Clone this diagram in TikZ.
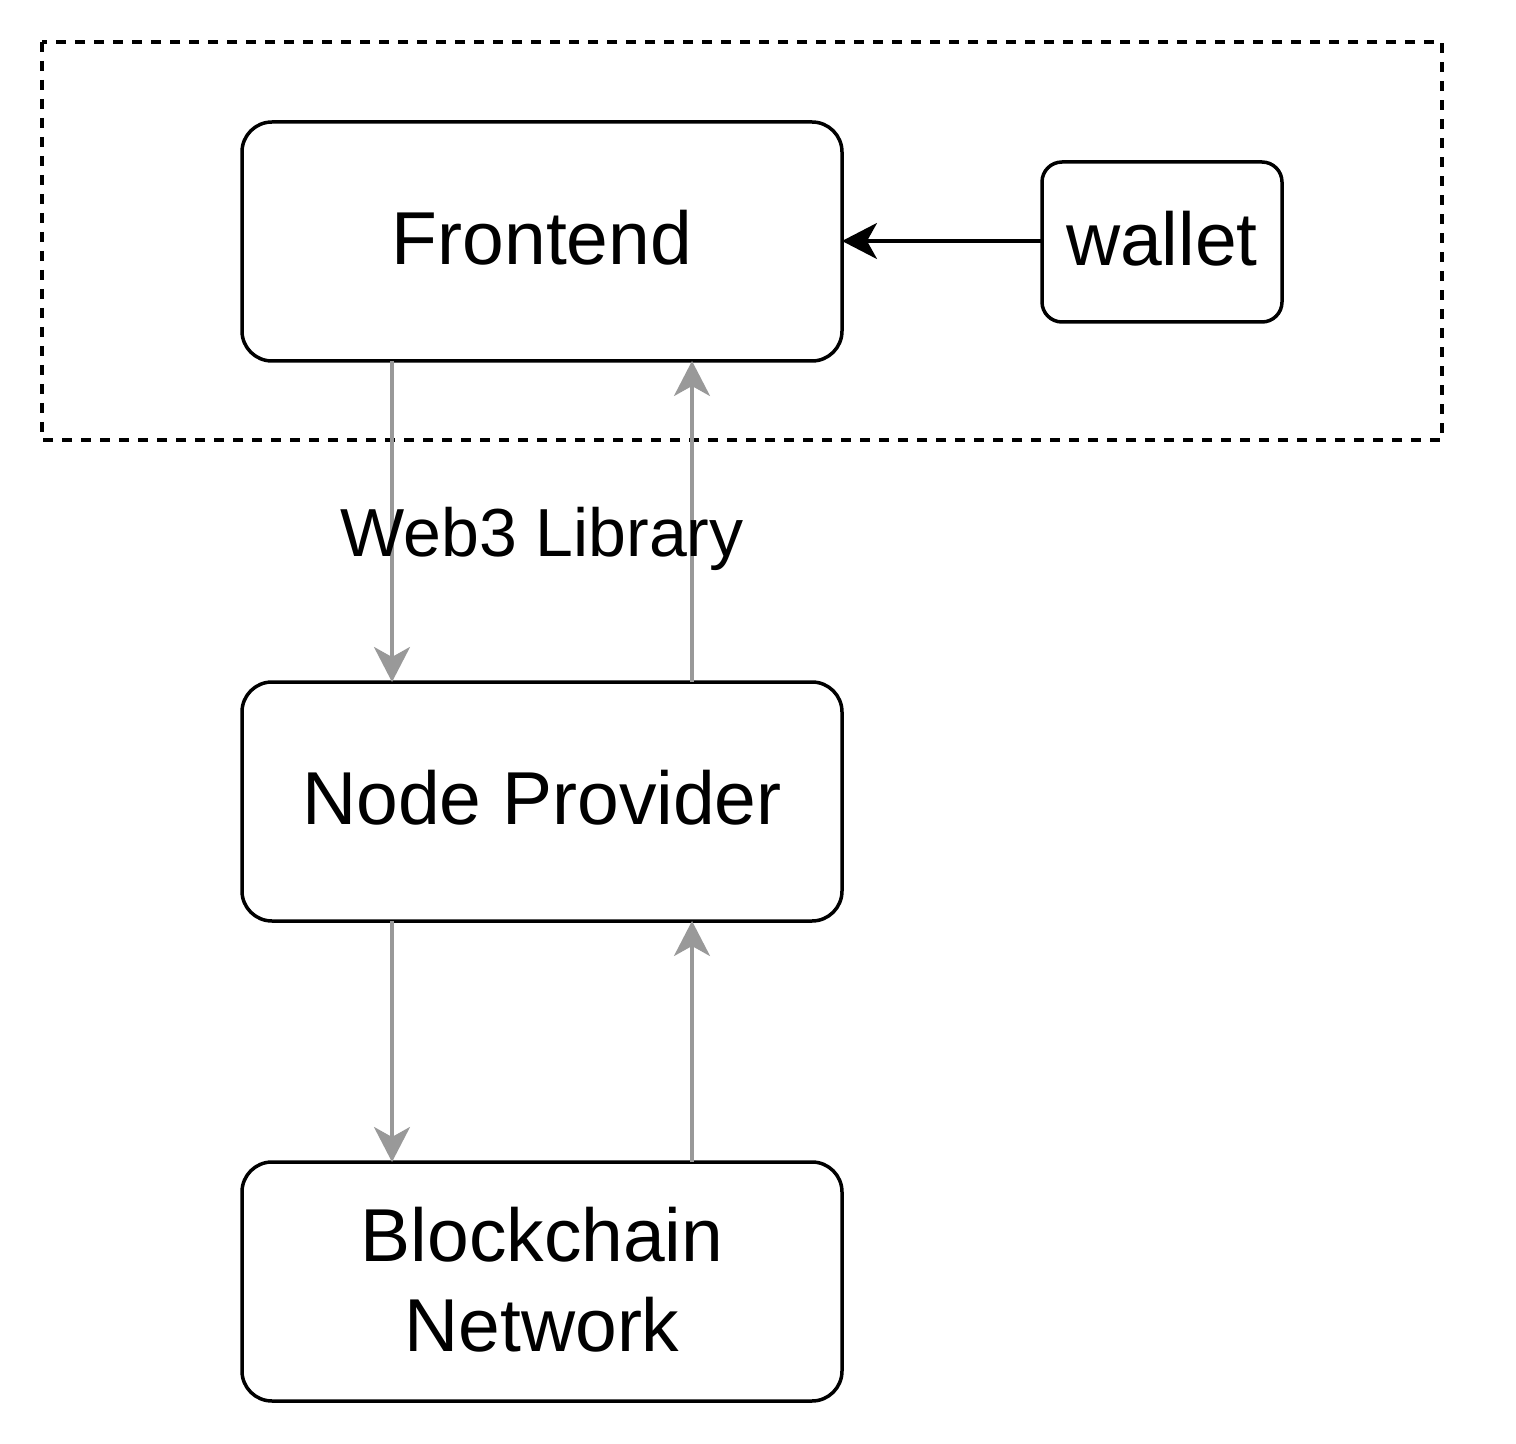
\documentclass[tikz,border=0pt]{standalone}
\usepackage{fontspec}
\setmainfont{Liberation Sans}
\usetikzlibrary{arrows.meta}
\begin{document}
\begin{tikzpicture}[x=0.5pt,y=-0.5pt,
  box/.style={draw=black,line width=1.75pt,rounded corners=15pt,inner sep=0pt},
  boxtext/.style={font=\fontsize{37.5}{45}\selectfont,align=center},
  grayarrow/.style={draw=black!40,line width=1.7pt,-{Stealth[length=17.5pt,width=18pt,inset=5pt]}},
  blackarrow/.style={draw=black,line width=1.7pt,-{Stealth[length=17.5pt,width=18pt,inset=5pt]}}]
\useasboundingbox (0,0) rectangle (1516,1444);
\fill[white] (0,0) rectangle (1516,1444);
\draw[line width=1.75pt,dash pattern=on 5pt off 4.5pt] (42,42) rectangle (1442,440);
\draw[box] (242,122) rectangle (842,361);
\node[boxtext] (fe) at (542,238) {Frontend};
\draw[box,rounded corners=10pt] (1042,162) rectangle (1282,322);
\node[boxtext] (wal) at (1162,239) {wallet};
\draw[box] (242,682) rectangle (842,921);
\node[boxtext] (np) at (542,798) {Node Provider};
\draw[box] (242,1162) rectangle (842,1401);
\node[boxtext] (bn) at (542,1280) {Blockchain\\Network};
\coordinate (wL) at (1042,241);
\coordinate (fR) at (842,241);
\coordinate (a1s) at (392,361); \coordinate (a1e) at (392,682);
\coordinate (a2s) at (692,682); \coordinate (a2e) at (692,361);
\coordinate (a3s) at (392,921); \coordinate (a3e) at (392,1162);
\coordinate (a4s) at (692,1162); \coordinate (a4e) at (692,921);
\draw[blackarrow] (wL) -- (fR);
\draw[grayarrow] (a1s) -- (a1e);
\draw[grayarrow] (a2s) -- (a2e);
\draw[grayarrow] (a3s) -- (a3e);
\draw[grayarrow] (a4s) -- (a4e);
\node[font=\fontsize{34}{40}\selectfont] (lbl) at (542,539) {Web3 Library};
\end{tikzpicture}
\end{document}
